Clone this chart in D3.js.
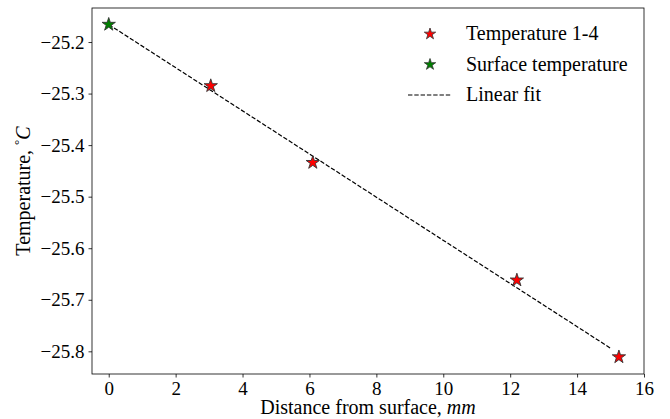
<!DOCTYPE html>
<html>
<head>
<meta charset="utf-8">
<script src="https://cdn.jsdelivr.net/npm/d3@7"></script>
<style>
  body { margin: 0; background: #fff; }
  text { font-family: "Liberation Serif", "DejaVu Serif", serif; fill: #000; }
</style>
</head>
<body>
<script>
// measured points (distance in mm, temperature in °C)
const sensorX = [3.05, 6.1, 12.2, 15.25];
const sensorY = [-25.285, -25.434, -25.662, -25.811];
const surfaceX = [0];
const surfaceY = [-25.166];
// linear fit end points
const fitX = [0, 15];
const fitY = [-25.166, -25.794];

const xTicks = [0, 2, 4, 6, 8, 10, 12, 14, 16];
const yTicks = [-25.2, -25.3, -25.4, -25.5, -25.6, -25.7, -25.8];

const width = 670, height = 419;
const margin = { left: 92, right: 26, top: 8, bottom: 45 };

const svg = d3.select('body').append('svg')
  .attr('width', width)
  .attr('height', height);

const x = d3.scaleLinear()
  .domain([-0.5, 16])
  .range([margin.left, width - margin.right]);

const y = d3.scaleLinear()
  .domain([-25.844, -25.134])
  .range([height - margin.bottom, margin.top]);

// star shape like matplotlib's '*' marker
function starPath(r) {
  const pts = [];
  for (let i = 0; i < 10; i++) {
    const rr = i % 2 === 0 ? r : r * 0.382;
    const a = -Math.PI / 2 + i * Math.PI / 5;
    pts.push([rr * Math.cos(a), rr * Math.sin(a)]);
  }
  return 'M' + pts.map(p => p.join(',')).join('L') + 'Z';
}

const fmt = d => d < 0 ? '\u2212' + Math.abs(d).toFixed(1) : d3.format('.1f')(d);

// axes
const xAxis = svg.append('g')
  .attr('transform', `translate(0,${height - margin.bottom})`)
  .call(d3.axisBottom(x).tickValues(xTicks).tickSize(3.5).tickPadding(4).tickFormat(d3.format('d')));

const yAxis = svg.append('g')
  .attr('transform', `translate(${margin.left},0)`)
  .call(d3.axisLeft(y).tickValues(yTicks).tickSize(3.5).tickPadding(4).tickFormat(fmt));

[xAxis, yAxis].forEach(g => {
  g.select('.domain').remove();
  g.selectAll('.tick line').attr('stroke', '#000').attr('stroke-width', 0.8);
  g.selectAll('.tick text').attr('font-size', 19).attr('fill', '#000')
    .style('font-family', '"Liberation Serif", serif');
});

// frame
svg.append('rect')
  .attr('x', x(-0.5))
  .attr('y', y(-25.134))
  .attr('width', x(16) - x(-0.5))
  .attr('height', y(-25.844) - y(-25.134))
  .attr('fill', 'none')
  .attr('stroke', '#000')
  .attr('stroke-width', 0.8);

// linear fit
svg.append('path')
  .datum(fitX.map((d, i) => [d, fitY[i]]))
  .attr('d', d3.line().x(d => x(d[0])).y(d => y(d[1])))
  .attr('fill', 'none')
  .attr('stroke', '#000')
  .attr('stroke-width', 1.2)
  .attr('stroke-dasharray', '4.4,1.9');

// markers
svg.selectAll('.sensor')
  .data(sensorX.map((d, i) => [d, sensorY[i]]))
  .join('path')
  .attr('class', 'sensor')
  .attr('d', starPath(7))
  .attr('transform', d => `translate(${x(d[0])},${y(d[1])})`)
  .attr('fill', '#ff0000')
  .attr('stroke', '#333')
  .attr('stroke-width', 0.9);

svg.selectAll('.surface')
  .data(surfaceX.map((d, i) => [d, surfaceY[i]]))
  .join('path')
  .attr('class', 'surface')
  .attr('d', starPath(7))
  .attr('transform', d => `translate(${x(d[0])},${y(d[1])})`)
  .attr('fill', '#008000')
  .attr('stroke', '#333')
  .attr('stroke-width', 0.9);

// axis labels
const xl = svg.append('text')
  .attr('x', (x(-0.5) + x(16)) / 2)
  .attr('y', 414)
  .attr('text-anchor', 'middle')
  .attr('font-size', 20);
xl.append('tspan').text('Distance from surface, ');
xl.append('tspan').attr('font-style', 'italic').text('mm');

const yl = svg.append('text')
  .attr('transform', `translate(30,${(y(-25.134) + y(-25.844)) / 2}) rotate(-90)`)
  .attr('text-anchor', 'middle')
  .attr('font-size', 20);
yl.append('tspan').text('Temperature, ');
yl.append('tspan').attr('font-size', 13).attr('dy', -7).text('\u00b0');
yl.append('tspan').attr('dy', 7).attr('font-style', 'italic').text('C');

// legend
const legend = svg.append('g');
const items = [
  { label: 'Temperature 1-4', type: 'star', color: '#ff0000' },
  { label: 'Surface temperature', type: 'star', color: '#008000' },
  { label: 'Linear fit', type: 'line' }
];
items.forEach((it, i) => {
  const cy = 34 + i * 30.5;
  if (it.type === 'star') {
    legend.append('path')
      .attr('d', starPath(6))
      .attr('transform', `translate(430,${cy})`)
      .attr('fill', it.color)
      .attr('stroke', '#333')
      .attr('stroke-width', 0.8);
  } else {
    legend.append('line')
      .attr('x1', 408).attr('x2', 451)
      .attr('y1', cy).attr('y2', cy)
      .attr('stroke', '#000')
      .attr('stroke-width', 1.2)
      .attr('stroke-dasharray', '4.4,1.9');
  }
  legend.append('text')
    .attr('x', 466)
    .attr('y', cy + 6)
    .attr('font-size', 20)
    .text(it.label);
});
</script>
</body>
</html>
